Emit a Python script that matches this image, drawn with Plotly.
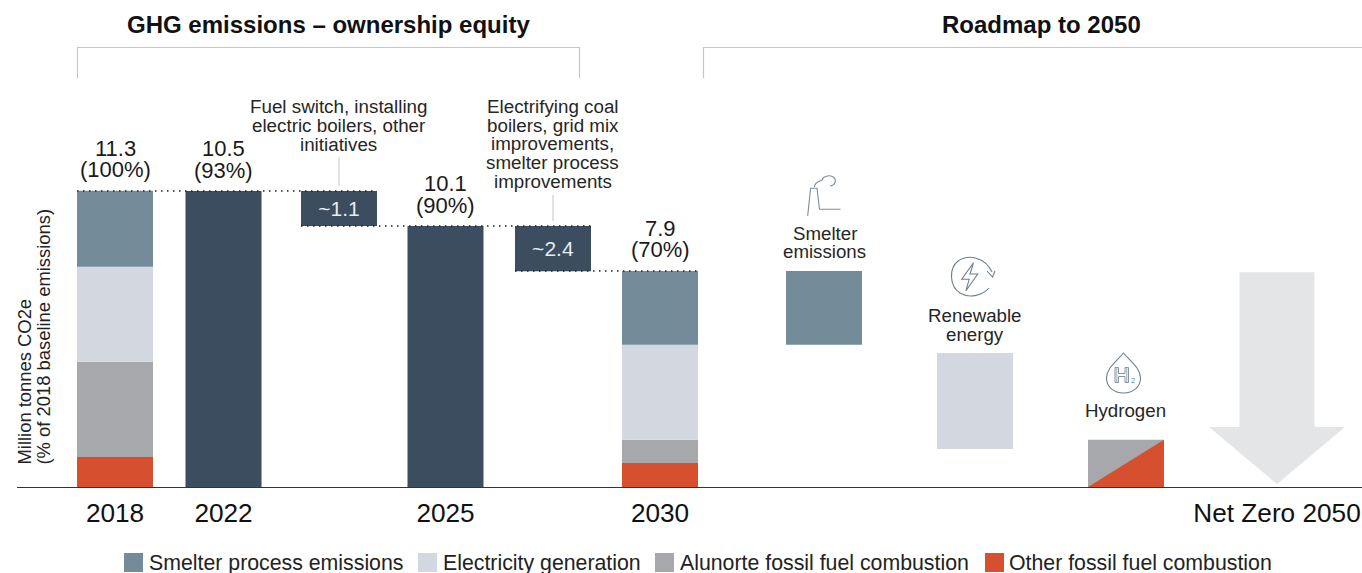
import plotly.graph_objects as go

# ---------- data (heights as drawn in the picture, in million tonnes CO2e) ----------
axis_labels = ["2018", "2022", "2025", "2030", "Net Zero 2050"]
total_value_labels = ["11.3", "10.5", "10.1", "7.9"]
total_pct_labels = ["(100%)", "(93%)", "(90%)", "(70%)"]
legend_names = ["Smelter process emissions", "Electricity generation",
                "Alunorte fossil fuel combustion", "Other fossil fuel combustion"]

red_2018_2030 = [1.15, 0.92]
grey_2018_2030 = [3.63, 0.88]
light_2018_2030 = [3.63, 3.63]
blue_2018_2030 = [2.90, 2.82]
solid_2022_2025 = [11.30, 9.96]
reduction_sizes = [1.34, 1.72]
reduction_labels = ["~1.1", "~2.4"]
roadmap_smelter = 2.82
roadmap_renewable = 3.67
roadmap_renewable_base = 1.45
roadmap_hydrogen = 1.80
roadmap_arrow_top = 8.20

# ---------- layout constants ----------
W, H = 1362, 573
BASE_PX = 487
PX_PER_UNIT = 296 / 11.3
BAR_W = 76
X_2018, X_2022, X_RED1, X_2025, X_RED2, X_2030 = 115, 223.5, 339, 445.5, 553, 660
X_SMELT, X_RENEW, X_HYDRO, X_ARROW = 824, 975, 1126, 1277
FONT = "Liberation Sans"

C_BLUE, C_LIGHT, C_GREY, C_RED = "#748c9a", "#d3d8e0", "#a6a8ab", "#d64f2f"
C_DARK, C_ARROW, C_ICON, C_BRACKET = "#3b4d5e", "#e4e5e7", "#6d7f8e", "#c4c6c8"

def bar(x, y, base, color, text=None):
    return go.Bar(x=x, y=y, base=base, width=BAR_W, marker=dict(color=color, line=dict(width=0)),
                  showlegend=False, hoverinfo="skip", text=text,
                  textposition="inside" if text else None, insidetextanchor="middle",
                  textangle=0, insidetextfont=dict(color="#e8ecef", size=21, family=FONT),
                  constraintext="none", cliponaxis=False)

fig = go.Figure()
stack_x = [X_2018, X_2030]
cum = [0, 0]
for vals, col in [(red_2018_2030, C_RED), (grey_2018_2030, C_GREY),
                  (light_2018_2030, C_LIGHT), (blue_2018_2030, C_BLUE)]:
    fig.add_trace(bar(stack_x, vals, list(cum), col))
    cum = [a + b for a, b in zip(cum, vals)]

top_2018, top_2030 = cum
top_2022, top_2025 = solid_2022_2025
fig.add_trace(bar([X_2022, X_2025], solid_2022_2025, [0, 0], C_DARK))
fig.add_trace(bar([X_RED1, X_RED2], reduction_sizes,
                  [top_2022 - reduction_sizes[0], top_2025 - reduction_sizes[1]], C_DARK,
                  text=reduction_labels))

# roadmap blocks
fig.add_trace(bar([X_SMELT], [roadmap_smelter], [top_2030 - roadmap_smelter], C_BLUE))
fig.add_trace(bar([X_RENEW], [roadmap_renewable], [roadmap_renewable_base], C_LIGHT))
fig.add_trace(bar([X_HYDRO], [roadmap_hydrogen], [0], C_GREY))
hl, hr = X_HYDRO - BAR_W / 2, X_HYDRO + BAR_W / 2
fig.add_trace(go.Scatter(x=[hl, hr, hr, hl], y=[0, roadmap_hydrogen, 0, 0], mode="lines", fill="toself",
                         fillcolor=C_RED, line=dict(width=0), showlegend=False, hoverinfo="skip"))

# net-zero arrow
head_h = 57 / PX_PER_UNIT
tip = 3 / PX_PER_UNIT
fig.add_trace(go.Scatter(
    x=[X_ARROW - 37.5, X_ARROW + 37.5, X_ARROW + 37.5, X_ARROW + 68, X_ARROW, X_ARROW - 68, X_ARROW - 37.5, X_ARROW - 37.5],
    y=[roadmap_arrow_top, roadmap_arrow_top, tip + head_h, tip + head_h, tip, tip + head_h, tip + head_h, roadmap_arrow_top],
    mode="lines", fill="toself", fillcolor=C_ARROW, line=dict(width=0), showlegend=False, hoverinfo="skip"))

# dotted connectors
for x0, x1, lvl in [(X_2018 - 38, X_RED1 + 38, top_2022),
                    (X_RED1 - 38, X_RED2 + 38, top_2025),
                    (X_RED2 - 38, X_2030 + 38, top_2030)]:
    fig.add_trace(go.Scatter(x=[x0, x1], y=[lvl, lvl], mode="lines", showlegend=False, hoverinfo="skip",
                             line=dict(color="#1e1e1e", width=1.5, dash="1.5px,4.5px")))

annotations, shapes = [], []

def px_text(x, y, text, size, color="#1a1a1a", bold=False, angle=0, anchor="center", vanchor="middle"):
    annotations.append(dict(xref="x2", yref="y2", x=x, y=y, text=f"<b>{text}</b>" if bold else text,
                            showarrow=False, xanchor=anchor, yanchor=vanchor, textangle=angle,
                            font=dict(family=FONT, size=size, color=color)))

def px_path(d, color=C_ICON, width=1.1, fill=None):
    s = dict(type="path", xref="x2", yref="y2", path=d, line=dict(color=color, width=width), layer="above")
    if fill:
        s["fillcolor"] = fill
    shapes.append(s)

def px_line(x0, y0, x1, y1, color=C_BRACKET, width=1):
    shapes.append(dict(type="line", xref="x2", yref="y2", x0=x0, y0=y0, x1=x1, y1=y1,
                       line=dict(color=color, width=width), layer="above"))

# headers + brackets
px_text(328, 24.5, "GHG emissions – ownership equity", 24, bold=True, color="#111111")
px_text(1041, 24.5, "Roadmap to 2050", 24, bold=True, color="#111111")
px_path("M77.5,78 V47.5 H579.5 V78", C_BRACKET, 1.2)
px_path("M703.5,78 V47.5 H1362", C_BRACKET, 1.2)

# value labels above totals
for cx, top, v, p in zip([X_2018, X_2022, X_2025, X_2030],
                         [top_2018, top_2022, top_2025, top_2030],
                         total_value_labels, total_pct_labels):
    annotations.append(dict(xref="x", yref="y", x=cx, y=top, text=v, showarrow=False, yanchor="middle", yshift=42.5,
                            font=dict(family=FONT, size=22, color="#1a1a1a")))
    annotations.append(dict(xref="x", yref="y", x=cx, y=top, text=p, showarrow=False, yanchor="middle", yshift=21,
                            font=dict(family=FONT, size=22, color="#1a1a1a")))

# call-outs
for i, line in enumerate(["Fuel switch, installing", "electric boilers, other", "initiatives"]):
    px_text(338.5, 106.3 + 19 * i, line, 18.8, color="#262626")
for i, line in enumerate(["Electrifying coal", "boilers, grid mix", "improvements,", "smelter process", "improvements"]):
    px_text(552.5, 106.3 + 18.7 * i, line, 18.8, color="#262626")
px_line(339, 157, 339, 186)
px_line(553, 195, 553, 221)

# roadmap labels
px_text(824.5, 233.3, "Smelter", 18.7, color="#262626")
px_text(824.5, 251.3, "emissions", 18.7, color="#262626")
px_text(975, 315.3, "Renewable", 18.7, color="#262626")
px_text(975, 334.3, "energy", 18.7, color="#262626")
px_text(1125.5, 410.3, "Hydrogen", 18.7, color="#262626")

# y title
px_text(23.5, 467, "Million tonnes CO2e", 18.4, angle=-90, color="#222222", vanchor="bottom")
px_text(42.5, 467, "(% of 2018 baseline emissions)", 18.4, angle=-90, color="#222222", vanchor="bottom")

# legend
for sx, tx, col, name in [(124, 147, C_BLUE, legend_names[0]), (418, 441, C_LIGHT, legend_names[1]),
                          (655, 678, C_GREY, legend_names[2]), (985, 1007, C_RED, legend_names[3])]:
    shapes.append(dict(type="rect", xref="x2", yref="y2", x0=sx, x1=sx + 19, y0=553, y1=572,
                       fillcolor=col, line=dict(width=0), layer="above"))
    px_text(tx, 563, name, 21.3, anchor="left", color="#222222")

# icons
px_path("M807.7,215.7 L810.6,188.3 H817 L819.5,209.3 H840.5", "#7d8c99")
px_path("M814.4,187 C815,181 820,181.5 822,180 C823,176 829,175 832.5,176.5 C837,179 836,185 830,186", "#7d8c99")
px_path("M989,288 C983,295 970,299 960,293 C949,286 949,268 958,261 C968,254 985,257 992,272", C_ICON)
px_path("M987,271 L992.5,277 L995,271", C_ICON)
px_path("M973.5,262.7 L961.7,279.3 H969.2 L965.9,290.7 L977.7,274 H970 Z", C_ICON)
px_path("M1123.5,353 C1117,361 1106.5,368 1106.5,378 C1106.5,387 1114,393 1123.5,393 C1133,393 1140.5,387 1140.5,378 C1140.5,368 1130,361 1123.5,353 Z", C_ICON)
px_path("M1115,367.5 H1118.5 V373.5 H1125 V367.5 H1128.5 V382.5 H1125 V376.5 H1118.5 V382.5 H1115 Z", "#8494a1", 1)
px_path("M1116.8,367.5 V382.5 M1126.8,367.5 V382.5", "#8494a1", 0.8)
px_text(1132.5, 380.5, "2", 7.5, color=C_ICON)

fig.update_layout(
    width=W, height=H, autosize=False, margin=dict(l=0, r=0, t=0, b=0),
    paper_bgcolor="white", plot_bgcolor="rgba(0,0,0,0)", barmode="overlay", showlegend=False,
    annotations=annotations, shapes=shapes,
    font=dict(family=FONT),
    xaxis=dict(domain=[17 / W, 1], range=[17, W], tickmode="array",
               tickvals=[X_2018, X_2022, X_2025, X_2030, X_ARROW], ticktext=axis_labels,
               tickfont=dict(family=FONT, size=26.2, color="#111111"), ticks="outside", ticklen=3,
               tickcolor="rgba(0,0,0,0)", showgrid=False, zeroline=False,
               showline=True, linecolor="#333333", linewidth=1, anchor="y", fixedrange=True),
    yaxis=dict(domain=[1 - BASE_PX / H, 1], range=[0, BASE_PX / PX_PER_UNIT], visible=False,
               fixedrange=True, anchor="x"),
    xaxis2=dict(domain=[0, 1], range=[0, W], visible=False, fixedrange=True, anchor="y2"),
    yaxis2=dict(domain=[0, 1], range=[H, 0], visible=False, fixedrange=True, anchor="x2"),
)
fig.add_trace(go.Scatter(x=[0], y=[0], xaxis="x2", yaxis="y2", mode="markers", marker=dict(opacity=0),
                         showlegend=False, hoverinfo="skip"))

fig.write_html("out.html", config=dict(displayModeBar=False),
               post_script="document.body.style.margin='0';document.body.style.overflow='hidden';")
